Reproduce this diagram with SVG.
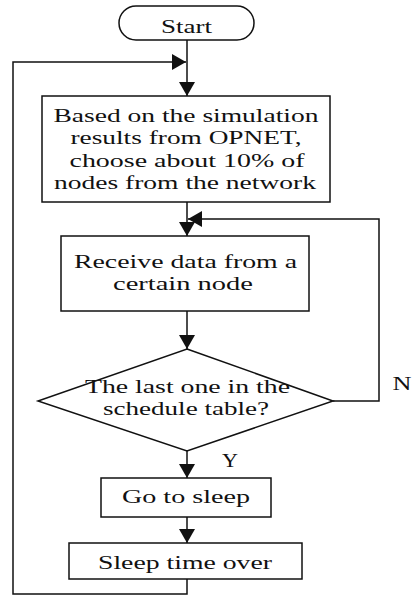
<svg xmlns="http://www.w3.org/2000/svg" width="413" height="596" viewBox="0 0 413 596">
<defs>
<style>
.n{fill:#fff;stroke:#111;stroke-width:1.5}
.t{font-family:"Liberation Serif","Times New Roman",serif;font-size:19px;fill:#111;text-anchor:middle}
.c{fill:none;stroke:#111;stroke-width:1.5}
</style>
<marker id="ah" markerUnits="userSpaceOnUse" markerWidth="18" markerHeight="18" refX="14" refY="8" orient="auto">
<path d="M0,0 L14,8 L0,16 z" fill="#111"/>
</marker>
</defs>
<rect width="413" height="596" fill="#fff"/>
<g id="connectors">
<path class="c" d="M187,40 V96" marker-end="url(#ah)"/>
<path class="c" d="M187,579 V594 H13 V62 H186" marker-end="url(#ah)"/>
<path class="c" d="M187,202 V236" marker-end="url(#ah)"/>
<path class="c" d="M187,311 V349" marker-end="url(#ah)"/>
<path class="c" d="M333,401 H379 V219 H188" marker-end="url(#ah)"/>
<path class="c" d="M187,451 V478" marker-end="url(#ah)"/>
<path class="c" d="M187,517 V543" marker-end="url(#ah)"/>
<text class="t" x="402" y="390" font-size="18" textLength="19" lengthAdjust="spacingAndGlyphs">N</text>
<text class="t" x="230" y="467" font-size="18" textLength="16" lengthAdjust="spacingAndGlyphs">Y</text>
</g>
<g id="start">
<rect class="n" x="119" y="6" width="135" height="34" rx="17"/>
<text class="t" x="186.5" y="33" font-size="20" textLength="51" lengthAdjust="spacingAndGlyphs">Start</text>
</g>
<g id="choose">
<rect class="n" x="42" y="96" width="288" height="106"/>
<text class="t" x="186" y="122" textLength="265" lengthAdjust="spacingAndGlyphs">Based on the simulation</text>
<text class="t" x="186" y="144" textLength="231" lengthAdjust="spacingAndGlyphs">results from OPNET,</text>
<text class="t" x="187" y="167" textLength="235" lengthAdjust="spacingAndGlyphs">choose about 10% of</text>
<text class="t" x="185" y="189" textLength="262" lengthAdjust="spacingAndGlyphs">nodes from the network</text>
</g>
<g id="receive">
<rect class="n" x="61" y="236" width="248" height="75"/>
<text class="t" x="185.5" y="268" textLength="223" lengthAdjust="spacingAndGlyphs">Receive data from a</text>
<text class="t" x="183" y="290" textLength="140" lengthAdjust="spacingAndGlyphs">certain node</text>
</g>
<g id="decision">
<polygon class="n" points="187,349 333,401 187,451 38,401"/>
<text class="t" x="187.5" y="393" textLength="205" lengthAdjust="spacingAndGlyphs">The last one in the</text>
<text class="t" x="186" y="415" textLength="166" lengthAdjust="spacingAndGlyphs">schedule table?</text>
</g>
<g id="sleep">
<rect class="n" x="101" y="478" width="170" height="39"/>
<text class="t" x="186" y="503" textLength="128" lengthAdjust="spacingAndGlyphs">Go to sleep</text>
</g>
<g id="over">
<rect class="n" x="69" y="543" width="233" height="36"/>
<text class="t" x="185" y="569" textLength="174" lengthAdjust="spacingAndGlyphs">Sleep time over</text>
</g>
</svg>
